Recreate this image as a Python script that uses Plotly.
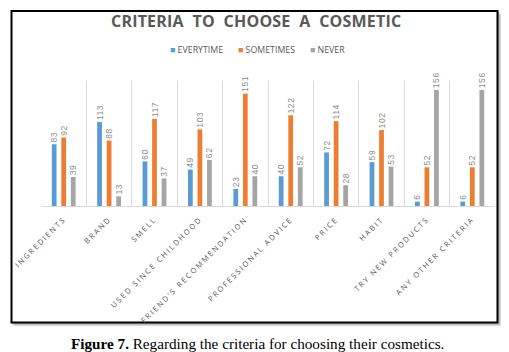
import plotly.graph_objects as go

categories = ["INGREDIENTS", "BRAND", "SMELL", "USED SINCE CHILDHOOD",
              "FRIEND'S RECOMMENDATION", "PROFESSIONAL ADVICE", "PRICE",
              "HABIT", "TRY NEW PRODUCTS", "ANY OTHER CRITERIA"]
everytime = [83, 113, 60, 49, 23, 40, 72, 59, 6, 6]
sometimes = [92, 88, 117, 103, 151, 122, 114, 102, 52, 52]
never = [39, 13, 37, 62, 40, 52, 28, 53, 156, 156]
series_names = ["EVERYTIME", "SOMETIMES", "NEVER"]
colors = ["#5B9BD5", "#ED7D31", "#A5A5A5"]

W, H = 509, 352
L, R, T, B = 41, 495, 81, 206  # plot area in pixels


def px(x):
    return (x - L) / (R - L)


def py(y):
    return (B - y) / (B - T)


fig = go.Figure()
for name, vals, col in zip(series_names, [everytime, sometimes, never], colors):
    fig.add_trace(go.Bar(
        x=categories, y=vals, name=name, marker_color=col,
        marker_line_width=0,
        text=["\u2009<span style='letter-spacing:0.6px'>%d</span>" % v for v in vals],
        textposition="outside", textangle=-90,
        textfont=dict(family="Liberation Sans", size=8.5, color="#8c8c8c"),
        cliponaxis=False, constraintext="none", showlegend=False,
    ))

ticktext = ["<span style='letter-spacing:1.85px'>%s</span>" % c for c in categories]

fig.update_layout(
    width=W, height=H,
    margin=dict(l=L, r=W - R, t=T, b=H - B, pad=0, autoexpand=False),
    paper_bgcolor="white", plot_bgcolor="rgba(0,0,0,0)",
    barmode="group", bargap=0.37, bargroupgap=0.5,
    xaxis=dict(
        type="category", tickmode="array", tickvals=categories, ticktext=ticktext,
        tickangle=-45, tickson="boundaries", ticks="", automargin=False,
        ticklabelstandoff=5,
        showgrid=True, gridcolor="#d9d9d9", gridwidth=1,
        showline=True, linecolor="#d9d9d9", linewidth=1,
        tickfont=dict(family="Open Sans", size=7.5, color="#595959"),
        range=[-0.5, 9.5],
    ),
    yaxis=dict(range=[0, 168], visible=False, showgrid=False, zeroline=False,
               automargin=False),
    showlegend=False,
)

# outer frame with shadow
fig.add_shape(type="rect", xref="paper", yref="paper", layer="below",
              x0=px(14), x1=px(501), y0=py(326), y1=py(14),
              fillcolor="#d4d4d4", line_width=0)
fig.add_shape(type="rect", xref="paper", yref="paper", layer="below",
              x0=px(12.5), x1=px(499.5), y0=py(324.5), y1=py(12.5),
              fillcolor="#b0b0b0", line_width=0)
fig.add_shape(type="rect", xref="paper", yref="paper", layer="below",
              x0=px(11.5), x1=px(497.5), y0=py(322.5), y1=py(11),
              fillcolor="white", line=dict(color="black", width=2))

# title
fig.add_annotation(xref="paper", yref="paper", x=px(256), y=py(21),
                   text="<span style='letter-spacing:0.2px'><b>CRITERIA  TO  CHOOSE  A  COSMETIC</b></span>",
                   showarrow=False, xanchor="center", yanchor="middle",
                   font=dict(family="Open Sans", size=16, color="#595959"))

# legend
leg_x = [168, 236, 308]
for name, col, lx in zip(series_names, colors, leg_x):
    fig.add_annotation(xref="paper", yref="paper", x=px(lx), y=py(50),
                       text="<span style='color:%s'>■</span> %s" % (col, name),
                       showarrow=False, xanchor="left", yanchor="middle",
                       font=dict(family="Open Sans", size=8.8, color="#595959"))

# caption
fig.add_annotation(xref="paper", yref="paper", x=px(257), y=py(343),
                   text="<b>Figure 7.</b> Regarding the criteria for choosing their cosmetics.",
                   showarrow=False, xanchor="center", yanchor="middle",
                   font=dict(family="Liberation Serif", size=15.2, color="#000000"))

fig.write_html("out.html")
